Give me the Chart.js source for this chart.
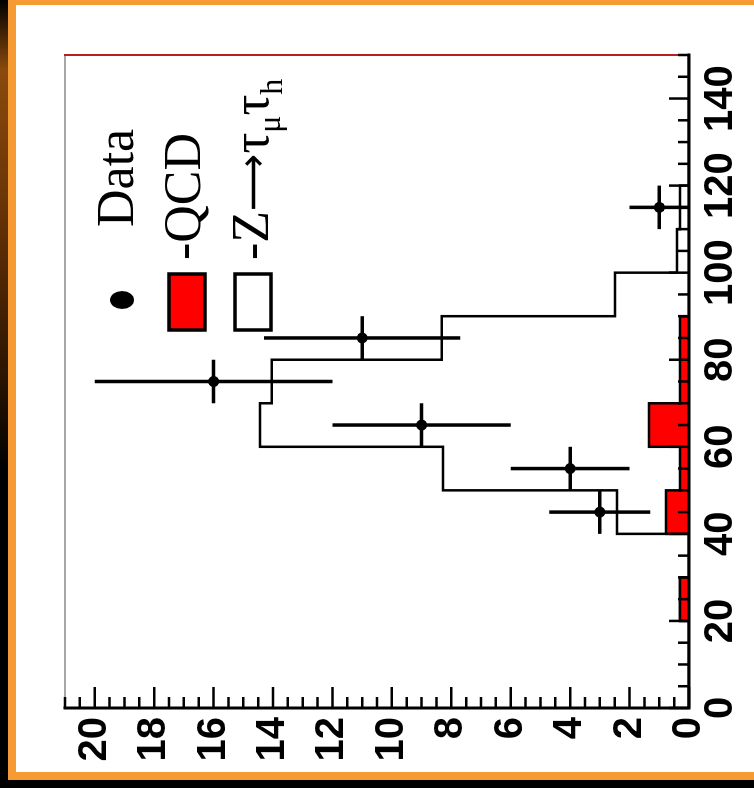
<!DOCTYPE html>
<html>
<head>
<meta charset="utf-8">
<script src="https://cdn.jsdelivr.net/npm/chart.js@4.4.0/dist/chart.umd.min.js"></script>
<style>
  html, body { margin: 0; padding: 0; background: #000; width: 754px; height: 788px; overflow: hidden; }
  #swoosh { position: absolute; left: 0; top: 0; width: 8px; height: 780px;
    background: linear-gradient(to bottom, #000 0px, #8a4a0c 70px, #6b3507 200px, #2a1402 380px, #000 470px); }
  #frame { position: absolute; left: 8px; top: 0; width: 746px; height: 780px; background: #f69b34; }
  #sheet { position: absolute; left: 16px; top: 5px; width: 738px; height: 767px; background: #fff; }
  #turn { position: absolute; left: 0; top: 0; width: 788px; height: 754px;
    transform-origin: 0 0; transform: translateY(788px) rotate(-90deg); }
</style>
</head>
<body>
<div id="swoosh"></div>
<div id="frame"></div>
<div id="sheet"></div>
<div id="turn"><canvas id="hist" width="788" height="754"></canvas></div>
<script>
// 10 GeV bins from 0 to 150
const binEdges = [0, 10, 20, 30, 40, 50, 60, 70, 80, 90, 100, 110, 120, 130, 140, 150];
const qcdCounts = [0, 0, 0.3, 0, 0.77, 0.3, 1.35, 0.3, 0.3, 0, 0, 0, 0, 0, 0];
const zttCounts = [0, 0, 0, 0, 1.65, 7.98, 13.09, 13.74, 8.02, 2.49, 0.4, 0.3, 0, 0, 0];

// observed events (bin centres) with their errors
const dataX = [45, 55, 65, 75, 85, 115];
const dataY = [3, 4, 9, 16, 11, 1];
const dataErr = [1.7, 2, 3, 4, 3.3, 1];
const binHalfWidth = 5;

const xTicks = [0, 20, 40, 60, 80, 100, 120, 140];
const yTicks = [0, 2, 4, 6, 8, 10, 12, 14, 16, 18, 20];

const stackTotal = qcdCounts.map((c, i) => c + zttCounts[i]);

function stepPoints(counts) {
  const pts = counts.map((c, i) => ({ x: binEdges[i], y: c }));
  pts.push({ x: binEdges[binEdges.length - 1], y: 0 });
  return pts;
}

// error bars: x = bin width, y = count error
const errorBars = {
  id: 'errorBars',
  afterDatasetsDraw(chart) {
    const { ctx, scales: { x, y } } = chart;
    ctx.save();
    ctx.strokeStyle = '#000';
    ctx.lineWidth = 3.5;
    dataX.forEach((v, i) => {
      const px = x.getPixelForValue(v);
      const py = y.getPixelForValue(dataY[i]);
      ctx.beginPath();
      ctx.moveTo(x.getPixelForValue(v - binHalfWidth), py);
      ctx.lineTo(x.getPixelForValue(v + binHalfWidth), py);
      ctx.moveTo(px, y.getPixelForValue(dataY[i] - dataErr[i]));
      ctx.lineTo(px, y.getPixelForValue(dataY[i] + dataErr[i]));
      ctx.stroke();
    });
    ctx.restore();
  }
};

// frame with inward ticks
const frame = {
  id: 'frame',
  afterDatasetsDraw(chart) {
    const { ctx, chartArea: a, scales: { x, y } } = chart;
    ctx.save();
    ctx.lineCap = 'square';
    ctx.strokeStyle = '#888';
    ctx.lineWidth = 1.5;
    ctx.beginPath(); ctx.moveTo(a.left, a.top); ctx.lineTo(a.right, a.top); ctx.stroke();
    ctx.strokeStyle = '#b82020';
    ctx.lineWidth = 2;
    ctx.beginPath(); ctx.moveTo(a.right, a.top); ctx.lineTo(a.right, a.bottom); ctx.stroke();

    ctx.strokeStyle = '#000';
    ctx.lineWidth = 3;
    ctx.beginPath();
    ctx.moveTo(a.left, a.top); ctx.lineTo(a.left, a.bottom); ctx.lineTo(a.right, a.bottom);
    ctx.stroke();

    ctx.lineWidth = 2.5;
    ctx.lineCap = 'butt';
    ctx.beginPath();
    for (let v = 0; v <= 150; v += 5) {
      const px = x.getPixelForValue(v);
      const len = v % 20 === 0 ? 20 : 11;
      ctx.moveTo(px, a.bottom); ctx.lineTo(px, a.bottom - len);
    }
    for (let v = 0; v <= 21; v += 0.5) {
      const py = y.getPixelForValue(v);
      const len = v % 2 === 0 ? 21 : 11;
      ctx.moveTo(a.left, py); ctx.lineTo(a.left + len, py);
    }
    ctx.stroke();
    ctx.restore();
  }
};

const legendBox = {
  id: 'legendBox',
  afterDraw(chart) {
    const ctx = chart.ctx;
    ctx.save();
    ctx.fillStyle = '#000';
    ctx.beginPath(); ctx.ellipse(488, 122, 9, 12, 0, 0, Math.PI * 2); ctx.fill();

    ctx.lineWidth = 3.5;
    ctx.strokeStyle = '#000';
    ctx.fillStyle = '#ff0000';
    ctx.fillRect(458, 169, 56, 36); ctx.strokeRect(458, 169, 56, 36);
    ctx.fillStyle = '#fff';
    ctx.fillRect(458, 235, 56, 36); ctx.strokeRect(458, 235, 56, 36);

    ctx.fillStyle = '#000';
    ctx.textBaseline = 'alphabetic';
    const big = '52px "Liberation Serif"';
    const arrow = '40px "Liberation Serif", "DejaVu Sans"';
    const small = '32px "Liberation Serif"';
    ctx.font = big;
    ctx.fillText('Data', 561, 133);
    ctx.fillText('-QCD', 528, 200);
    let cx = 528;
    const parts = [['-Z', big, 268], ['\u27f6', arrow, 266], ['\u03c4', big, 268], ['\u03bc', small, 280],
                   ['\u03c4', big, 268], ['h', small, 282]];
    parts.forEach(([t, f, b]) => {
      ctx.font = f;
      ctx.fillText(t, cx, b);
      cx += ctx.measureText(t).width;
    });
    ctx.restore();
  }
};

const tickFont = { family: '"Liberation Sans", Arial, sans-serif', size: 40, weight: 'bold' };

new Chart(document.getElementById('hist'), {
  type: 'scatter',
  data: {
    datasets: [
      {
        label: 'Data',
        data: dataX.map((v, i) => ({ x: v, y: dataY[i] })),
        backgroundColor: '#000',
        borderWidth: 0,
        pointRadius: 5.5,
        order: 0
      },
      {
        type: 'line',
        label: 'QCD',
        data: stepPoints(qcdCounts),
        stepped: 'before',
        fill: 'origin',
        backgroundColor: '#ff0000',
        borderColor: '#000',
        borderWidth: 2.5,
        pointRadius: 0,
        order: 1
      },
      {
        type: 'line',
        label: 'Z->tautau',
        data: stepPoints(stackTotal),
        stepped: 'before',
        fill: 'origin',
        backgroundColor: '#fff',
        borderColor: '#000',
        borderWidth: 2.5,
        pointRadius: 0,
        order: 2
      }
    ]
  },
  options: {
    responsive: false,
    animation: false,
    layout: { padding: { left: 0, right: 55, top: 65, bottom: 0 } },
    plugins: { legend: { display: false }, tooltip: { enabled: false } },
    scales: {
      x: {
        type: 'linear', min: 0, max: 150,
        grid: { display: false, drawTicks: false }, border: { display: false },
        afterBuildTicks: s => { s.ticks = xTicks.map(v => ({ value: v })); },
        afterFit: s => { s.height = 65; },
        ticks: { font: tickFont, color: '#000', padding: 8, maxRotation: 0, autoSkip: false }
      },
      y: {
        type: 'linear', min: 0, max: 21,
        grid: { display: false, drawTicks: false }, border: { display: false },
        afterBuildTicks: s => { s.ticks = yTicks.map(v => ({ value: v })); },
        afterFit: s => { s.width = 80; },
        ticks: { font: tickFont, color: '#000', padding: 9, autoSkip: false }
      }
    }
  },
  plugins: [errorBars, frame, legendBox]
});
</script>
</body>
</html>
